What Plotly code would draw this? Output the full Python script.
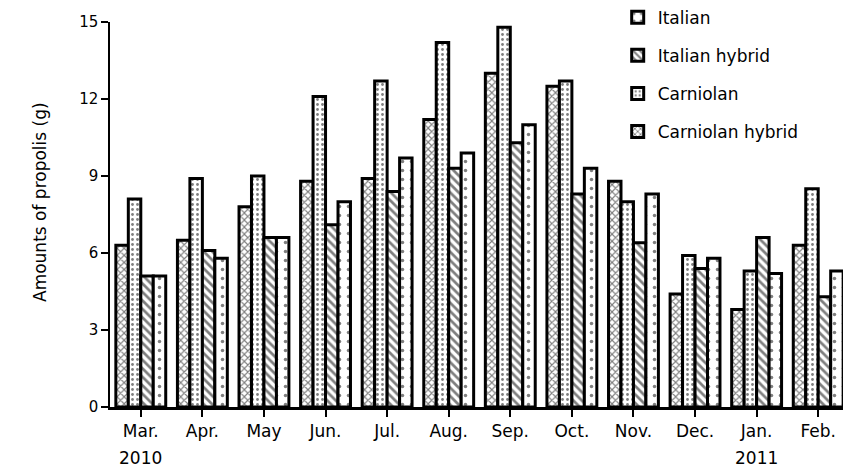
import plotly.graph_objects as go

months = ["Mar.", "Apr.", "May", "Jun.", "Jul.", "Aug.", "Sep.", "Oct.",
          "Nov.", "Dec.", "Jan.", "Feb."]
year_labels = {0: "2010", 10: "2011"}
carniolan_hybrid = [6.3, 6.5, 7.8, 8.8, 8.9, 11.2, 13.0, 12.5, 8.8, 4.4, 3.8, 6.3]
carniolan = [8.1, 8.9, 9.0, 12.1, 12.7, 14.2, 14.8, 12.7, 8.0, 5.9, 5.3, 8.5]
italian_hybrid = [5.1, 6.1, 6.6, 7.1, 8.4, 9.3, 10.3, 8.3, 6.4, 5.4, 6.6, 4.3]
italian = [5.1, 5.8, 6.6, 8.0, 9.7, 9.9, 11.0, 9.3, 8.3, 5.8, 5.2, 5.3]
y_ticks = [0, 3, 6, 9, 12, 15]

FONT = "DejaVu Sans, Arial, sans-serif"
x = list(range(len(months)))
series = [
    ("Carniolan hybrid", carniolan_hybrid, "x", 5, 0.4, 4),
    ("Carniolan", carniolan, ".", 5, 0.25, 3),
    ("Italian hybrid", italian_hybrid, "\\", 6, 0.45, 2),
    ("Italian", italian, ".", 9, 0.12, 1),
]

fig = go.Figure()
for name, vals, shape, size, sol, rank in series:
    fig.add_trace(go.Bar(
        x=x, y=vals, name=name, legendgroup=name, legendrank=rank,
        marker=dict(color="white", line=dict(color="black", width=3),
                    pattern=dict(shape=shape, size=size, solidity=sol,
                                 fgcolor="black", bgcolor="white")),
    ))

annotations = [
    dict(x=k, y=-0.132, xref="x", yref="paper", text=t, showarrow=False,
         xanchor="center", yanchor="middle", font=dict(family=FONT, size=17))
    for k, t in year_labels.items()
]
annotations.append(dict(
    x=(40 - 110) / 739, y=(407 - 202) / 385, xref="paper", yref="paper",
    text="Amounts of propolis (g)", showarrow=False, textangle=-90,
    font=dict(family=FONT, size=17), xanchor="center", yanchor="middle"))

# the page body adds an 8px margin, so the figure is 8px smaller than the window
fig.update_layout(
    width=843, height=461,
    margin=dict(l=102, r=2, t=14, b=62, autoexpand=False),
    paper_bgcolor="white", plot_bgcolor="white",
    barmode="group", bargap=0.19, bargroupgap=0,
    font=dict(family=FONT, size=17, color="black"),
    showlegend=True,
    legend=dict(x=0.687, y=1.058, xanchor="left", yanchor="top",
                traceorder="grouped", tracegroupgap=13,
                font=dict(family=FONT, size=17), bgcolor="rgba(0,0,0,0)"),
    annotations=annotations,
    xaxis=dict(tickmode="array", tickvals=x, ticktext=months,
               range=[-0.5, len(months) - 0.5], automargin=False,
               showline=True, linecolor="black", linewidth=3,
               ticks="outside", tickson="boundaries", ticklen=7, tickwidth=1.5,
               tickcolor="black", showgrid=False, ticklabelstandoff=0,
               tickfont=dict(family=FONT, size=17)),
    yaxis=dict(range=[0, 15], tickvals=y_ticks, showline=True, linecolor="black",
               linewidth=1.5, ticks="outside", ticklen=7, tickwidth=1.5,
               tickcolor="black", showgrid=False, zeroline=False, automargin=False,
               tickfont=dict(family=FONT, size=15)),
)

fig.write_html("out.html")
